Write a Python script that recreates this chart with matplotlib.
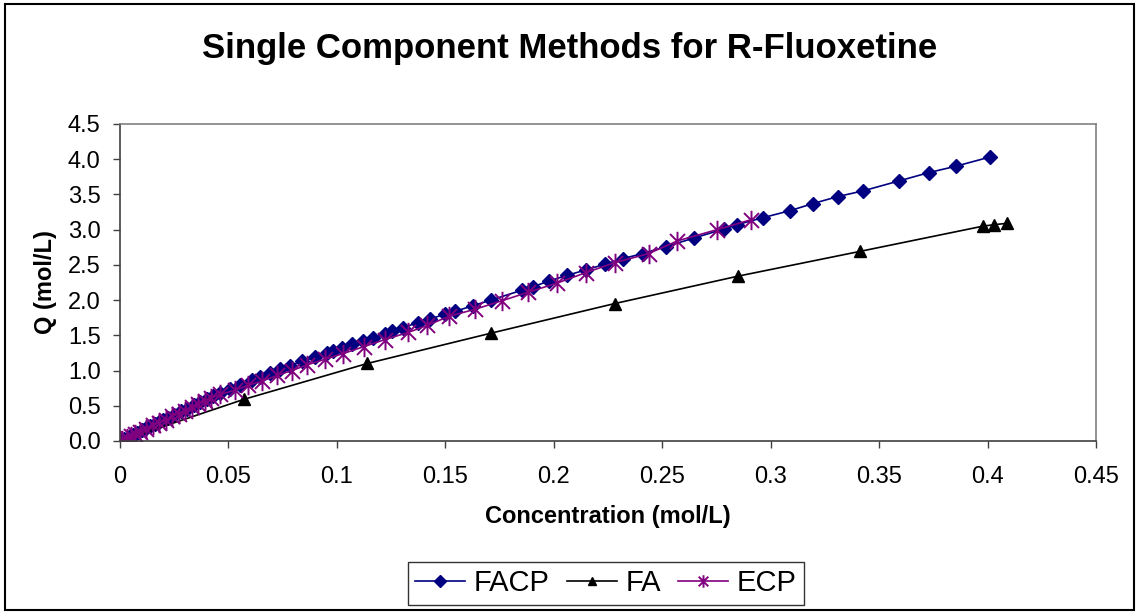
import matplotlib
matplotlib.use("Agg")
import matplotlib.pyplot as plt
from matplotlib.path import Path
from matplotlib.patches import Rectangle

plt.rcParams['font.family'] = ['Liberation Sans', 'DejaVu Sans']

# FACP series
facp_x = [0.000, 0.001, 0.002, 0.004, 0.006, 0.008, 0.010, 0.012, 0.014, 0.016,
          0.018, 0.020, 0.022, 0.025, 0.028, 0.031, 0.034, 0.037, 0.040, 0.043,
          0.0461, 0.0507, 0.0553, 0.0608, 0.0645, 0.0691, 0.0738, 0.0784, 0.0839, 0.0899,
          0.0954, 0.0982, 0.1023, 0.1069, 0.1120, 0.1166, 0.1222, 0.1254, 0.1305, 0.1374,
          0.1429, 0.1498, 0.1545, 0.1627, 0.1710, 0.1853, 0.1904, 0.1978, 0.2060, 0.2150,
          0.2236, 0.2320, 0.2410, 0.2517, 0.2646, 0.2785, 0.2845, 0.2965, 0.3090, 0.3195,
          0.3310, 0.3426, 0.3590, 0.3730, 0.3854, 0.4010]
facp_y = [0.00, 0.02, 0.03, 0.06, 0.09, 0.12, 0.15, 0.18, 0.21, 0.24,
          0.27, 0.30, 0.33, 0.37, 0.42, 0.46, 0.51, 0.55, 0.60, 0.64,
          0.68, 0.74, 0.80, 0.87, 0.91, 0.97, 1.02, 1.07, 1.13, 1.19,
          1.25, 1.28, 1.32, 1.37, 1.42, 1.46, 1.52, 1.56, 1.61, 1.68,
          1.73, 1.80, 1.84, 1.92, 2.00, 2.14, 2.19, 2.27, 2.35, 2.43,
          2.51, 2.59, 2.66, 2.76, 2.88, 3.01, 3.07, 3.17, 3.27, 3.37,
          3.47, 3.55, 3.69, 3.81, 3.90, 4.03]

# FA series
fa_x = [0.000, 0.057, 0.114, 0.171, 0.228, 0.285, 0.341, 0.398, 0.403, 0.409]
fa_y = [0.00, 0.59, 1.10, 1.53, 1.95, 2.34, 2.69, 3.05, 3.07, 3.09]

# ECP series
ecp_x = [0.000, 0.001, 0.003, 0.005, 0.007, 0.009, 0.012, 0.015, 0.018, 0.021,
         0.024, 0.027, 0.030, 0.033, 0.036, 0.039, 0.042, 0.0461, 0.053, 0.059,
         0.0655, 0.0724, 0.0793, 0.0862, 0.0945, 0.1028, 0.1125, 0.1222, 0.1328, 0.1416,
         0.1517, 0.1637, 0.1761, 0.1880, 0.2014, 0.2148, 0.2280, 0.2437, 0.2570, 0.2753,
         0.2909]
ecp_y = [0.00, 0.01, 0.04, 0.07, 0.10, 0.13, 0.17, 0.22, 0.26, 0.30,
         0.35, 0.39, 0.43, 0.48, 0.52, 0.57, 0.61, 0.66, 0.72, 0.79,
         0.85, 0.93, 1.00, 1.08, 1.16, 1.24, 1.34, 1.44, 1.54, 1.64,
         1.77, 1.87, 1.99, 2.11, 2.24, 2.39, 2.53, 2.66, 2.84, 3.00,
         3.14]

x_ticks = [0, 0.05, 0.1, 0.15, 0.2, 0.25, 0.3, 0.35, 0.4, 0.45]
x_tick_labels = ['0', '0.05', '0.1', '0.15', '0.2', '0.25', '0.3', '0.35', '0.4', '0.45']
y_ticks = [0.0, 0.5, 1.0, 1.5, 2.0, 2.5, 3.0, 3.5, 4.0, 4.5]

# excel style star: X plus vertical bar
star = Path([(-1, -1), (1, 1), (-1, 1), (1, -1), (0, -1.3), (0, 1.3)],
            [Path.MOVETO, Path.LINETO, Path.MOVETO, Path.LINETO, Path.MOVETO, Path.LINETO])

fig = plt.figure(figsize=(11.39, 6.14), dpi=100)
ax = fig.add_axes([0.1054, 0.2818, 0.8568, 0.5163])

ax.plot(facp_x, facp_y, color='#000080', lw=1.2, marker='D', markersize=7.5,
        markerfacecolor='#000080', markeredgecolor='#000080', label='FACP')
ax.plot(fa_x, fa_y, color='black', lw=1.2, marker='^', markersize=9,
        markerfacecolor='black', markeredgecolor='black', label='FA')
ax.plot(ecp_x, ecp_y, color='#800080', lw=1.2, marker=star, markersize=14,
        markeredgewidth=1.4, markeredgecolor='#800080', label='ECP')

ax.set_xlim(0, 0.45)
ax.set_ylim(0, 4.5)
ax.set_xticks(x_ticks)
ax.set_xticklabels(x_tick_labels)
ax.set_yticks(y_ticks)
ax.set_yticklabels(['%.1f' % v for v in y_ticks])
ax.tick_params(direction='out', length=5, width=1, labelsize=17, colors='#404040',
               labelcolor='black')
ax.tick_params(axis='y', pad=9)
ax.tick_params(axis='x', pad=13)

for s in ['top', 'right']:
    ax.spines[s].set_color('#808080')
    ax.spines[s].set_linewidth(1.2)
for s in ['left', 'bottom']:
    ax.spines[s].set_color('#404040')
    ax.spines[s].set_linewidth(1.2)

fig.text(0.5, 0.921, 'Single Component Methods for R-Fluoxetine', ha='center', va='center',
         fontsize=25, fontweight='bold')
fig.text(0.534, 0.158, 'Concentration (mol/L)', ha='center', va='center',
         fontsize=17, fontweight='bold')
fig.text(0.04, 0.54, 'Q (mol/L)', ha='center', va='center', rotation=90,
         fontsize=17, fontweight='bold')

leg = fig.legend(loc='center', bbox_to_anchor=(0.532, 0.05), ncol=3, fontsize=21,
                 frameon=True, fancybox=False, edgecolor='black', handlelength=1.7,
                 columnspacing=0.6, handletextpad=0.3, borderpad=0.25)
leg.get_frame().set_linewidth(1.0)
for h in leg.legend_handles:
    h.set_markersize(6)
leg.legend_handles[2].set_markersize(9)

fig.add_artist(Rectangle((0.004, 0.006), 0.992, 0.988, transform=fig.transFigure,
                         fill=False, edgecolor='black', lw=1.5))

fig.savefig('out.png', dpi=100)
